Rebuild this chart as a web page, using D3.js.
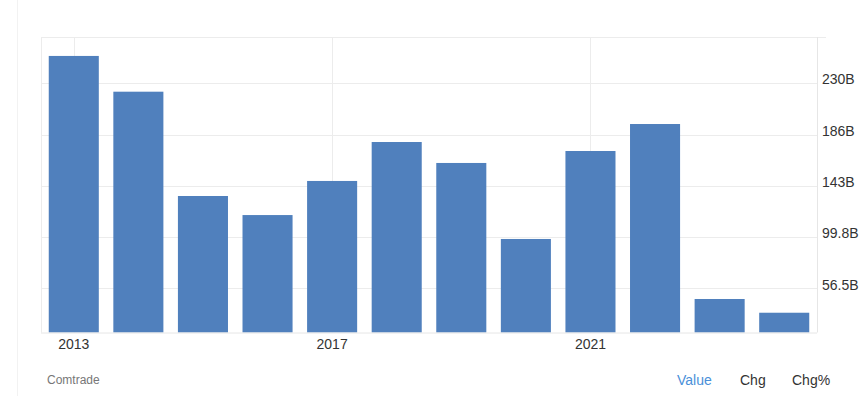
<!DOCTYPE html>
<html>
<head>
<meta charset="utf-8">
<script src="https://cdn.jsdelivr.net/npm/d3@7"></script>
<style>
  html, body { margin: 0; padding: 0; background: #fff; }
  svg { display: block; font-family: Arial, "Liberation Sans", sans-serif; }
</style>
</head>
<body>
<svg id="chart" width="868" height="396"></svg>
<script>
const years = ["2013","2014","2015","2016","2017","2018","2019","2020","2021","2022","2023","2024"];
const values = [252.8, 222.6, 134.5, 118.4, 147.2, 180.1, 162.4, 98.2, 172.5, 195.3, 47.5, 35.9];
const xTickLabels = ["2013","2017","2021"];
const yTickValues = [56.5, 99.8, 143.1, 186.4, 229.7];
const yTickLabels = ["56.5B","99.8B","143B","186B","230B"];
const footerButtons = ["Value","Chg","Chg%"];
const sourceLabel = "Comtrade";

const svg = d3.select("#chart");
const W = 868, H = 396;
const pLeft = 41, pRight = 817, pTop = 37, pBottom = 332.5;

// container left border
svg.append("line").attr("x1", 17.5).attr("x2", 17.5).attr("y1", 0).attr("y2", H)
  .attr("stroke", "#f2f2f2").attr("stroke-width", 1);

const x = d3.scaleBand().domain(years).range([pLeft, pRight]).paddingInner(0.225).paddingOuter(0.12);
const y = d3.scaleLinear().domain([19.2, 268.8]).range([pBottom, pTop]);

const grid = svg.append("g");
grid.selectAll("line.h").data(yTickValues).join("line")
  .attr("x1", pLeft).attr("x2", pRight)
  .attr("y1", d => Math.round(y(d)) + 0.5).attr("y2", d => Math.round(y(d)) + 0.5)
  .attr("stroke", "#ececec");
grid.append("line").attr("x1", pLeft).attr("x2", 826).attr("y1", pTop + 0.5).attr("y2", pTop + 0.5).attr("stroke", "#ececec");
grid.append("line").attr("x1", pLeft + 0.5).attr("x2", pLeft + 0.5).attr("y1", pTop).attr("y2", pBottom).attr("stroke", "#ececec");
grid.append("line").attr("x1", pRight + 0.5).attr("x2", pRight + 0.5).attr("y1", pTop).attr("y2", pBottom).attr("stroke", "#e6e6e6");
grid.selectAll("line.v").data(xTickLabels).join("line")
  .attr("x1", d => Math.round(x(d) + x.bandwidth() / 2) + 0.5)
  .attr("x2", d => Math.round(x(d) + x.bandwidth() / 2) + 0.5)
  .attr("y1", pTop).attr("y2", pBottom)
  .attr("stroke", "#ececec");

svg.append("g").selectAll("rect").data(years).join("rect")
  .attr("x", d => x(d))
  .attr("width", x.bandwidth())
  .attr("y", (d, i) => y(values[i]))
  .attr("height", (d, i) => pBottom - y(values[i]))
  .attr("fill", "#5080bd");

svg.append("line").attr("x1", pLeft).attr("x2", pRight).attr("y1", pBottom + 0.5).attr("y2", pBottom + 0.5).attr("stroke", "#e6e6e6");

const xAxis = d3.axisBottom(x).tickValues(xTickLabels).tickSize(0).tickPadding(4);
const gx = svg.append("g").attr("transform", `translate(0,${pBottom})`).call(xAxis);
gx.select(".domain").remove();
gx.selectAll("text").attr("fill", "#333").style("font-size", "14px").attr("dy", "0.9em");

const yAxis = d3.axisRight(y).tickValues(yTickValues).tickFormat((d, i) => yTickLabels[i]).tickSize(0).tickPadding(5);
const gy = svg.append("g").attr("transform", `translate(${pRight},0)`).call(yAxis);
gy.select(".domain").remove();
gy.selectAll("text").attr("fill", "#333").style("font-size", "14px").attr("dy", "0.05em");

svg.append("text").attr("x", 47).attr("y", 384).text(sourceLabel)
  .attr("fill", "#777").style("font-size", "12px");
const btnX = [677, 740, 792];
svg.append("g").selectAll("text").data(footerButtons).join("text")
  .attr("x", (d, i) => btnX[i]).attr("y", 385)
  .text(d => d)
  .attr("fill", (d, i) => i === 0 ? "#4a90d9" : "#333")
  .style("font-size", "14px");
</script>
</body>
</html>
